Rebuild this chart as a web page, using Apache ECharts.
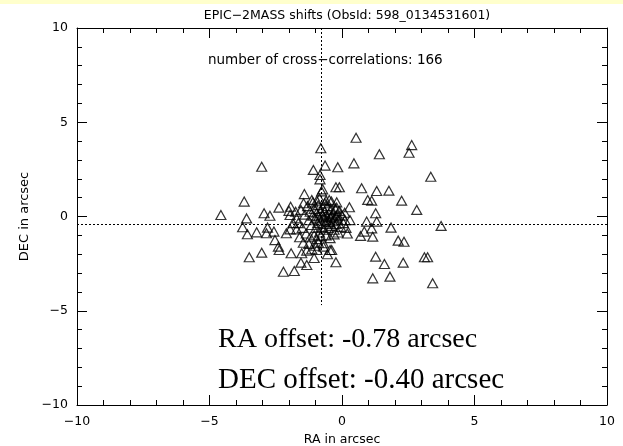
<!DOCTYPE html>
<html><head><meta charset="utf-8">
<script src="https://cdn.jsdelivr.net/npm/echarts@6/dist/echarts.min.js"></script>
<style>html,body{margin:0;padding:0;background:#fff}#c{width:623px;height:446px}</style>
</head><body><div id="c"></div>
<script>
// RA / DEC shifts (arcsec) of the 166 cross-correlations
const ra = [
-0.80,-3.03,-0.64,-1.08,-0.16,-0.83,-0.83,-0.73,-0.77,-0.23,
-1.42,-3.69,-1.14,-0.95,-0.60,-0.48,-2.38,-1.94,-0.20,0.53,
2.63,2.53,1.41,0.45,3.35,-0.10,0.74,1.31,1.77,0.97,
1.12,2.25,0.28,2.82,1.27,-0.20,0.11,0.30,0.93,1.31,
1.85,3.74,1.12,0.84,0.70,1.16,2.12,2.34,-0.39,1.27,
3.11,3.23,1.60,2.31,-0.23,1.16,1.81,3.42,-4.57,-3.60,
-2.94,-2.72,-1.96,-1.71,-3.75,-3.57,-3.22,-2.81,-2.85,-2.57,
-2.53,-2.40,-2.37,-2.10,-1.96,-1.71,-3.50,-3.03,-1.92,-1.52,
-1.33,-1.14,-0.95,-0.45,-1.55,-1.33,-2.21,-1.80,-1.46,-0.89,
-0.70,
-1.55,-1.40,-1.30,-1.25,-1.20,-1.15,-1.10,-1.05,-1.00,-0.98,
-0.95,-0.92,-0.90,-0.88,-0.85,-0.82,-0.80,-0.78,-0.75,-0.72,
-0.70,-0.68,-0.65,-0.62,-0.60,-0.58,-0.55,-0.52,-0.50,-0.48,
-0.45,-0.42,-0.40,-0.38,-0.35,-0.32,-0.30,-0.28,-0.25,-0.22,
-0.18,-0.15,-0.10,-0.05,0.00,0.05,0.10,0.15,-1.65,-1.50,
-1.35,-1.20,-1.05,-0.95,-0.80,-0.60,-0.45,-0.30,-0.15,0.20,
-1.45,-1.10,-0.85,-0.65,-0.40,-0.20,-1.75,-1.85,-2.00,-1.60,
-1.00,-0.70,-1.25,-0.55,-1.05
];
const dec = [
3.62,2.64,2.70,2.47,2.61,2.20,1.97,1.44,1.33,1.55,
1.19,0.79,0.88,0.84,0.84,0.88,0.47,0.52,0.47,4.18,
3.79,3.38,3.30,2.82,2.11,1.55,1.50,1.35,1.37,0.88,
0.84,0.84,0.49,0.35,0.17,0.00,-0.19,-0.19,-0.27,-0.27,
-0.59,-0.50,-0.63,-0.80,-1.03,-1.07,-1.28,-1.34,-1.78,-2.13,
-2.16,-2.16,-2.52,-2.45,-2.43,-3.28,-3.19,-3.54,0.08,-0.10,
0.17,0.04,0.08,-0.10,-0.57,-0.94,-0.84,-0.59,-0.89,-0.80,
-1.25,-1.60,-1.78,-0.89,-0.68,-0.68,-2.16,-1.92,-1.95,-1.95,
-1.81,-1.74,-1.78,-1.78,-2.45,-2.57,-2.93,-2.89,-1.39,-1.39,
-1.42,
0.35,0.10,0.55,-0.20,0.25,-0.45,0.05,0.40,-0.10,-0.60,
0.20,-0.35,0.60,0.00,-0.85,0.30,-0.25,-0.55,0.10,0.45,
-0.05,-0.70,0.25,-0.40,0.05,-0.20,0.55,-0.60,0.15,-0.30,
-0.05,0.35,-0.50,0.00,-0.25,0.20,-0.70,-0.10,0.40,-0.40,
0.10,-0.20,0.30,-0.55,0.05,-0.35,0.20,-0.60,-0.35,-0.60,
-0.90,-1.10,-1.00,-1.20,-1.05,-1.00,-1.15,-0.95,-0.85,-0.90,
0.70,0.75,0.95,0.70,0.80,0.75,0.25,-0.35,0.30,-1.10,
-1.55,-1.60,-1.45,-2.00,-2.20
];
const raOffset = -0.78;
const decOffset = -0.40;
const nCorr = 166;
const vLineBottom = -4.7;
const xTicks = [-10, -5, 0, 5, 10];
const yTicks = [-10, -5, 0, 5, 10];
const titleText = 'EPIC\u22122MASS shifts (ObsId: 598_0134531601)';

const pts = ra.map((v, i) => [v, dec[i]]);
const fmt = v => String(v).replace('-', '\u2212');
const lab = { color: '#000', fontFamily: 'DejaVu Sans', fontSize: 12.5, fontWeight: 'normal' };
const axCommon = (pos, showLabel) => ({
  type: 'value', min: -10, max: 10, interval: 5, position: pos,
  axisLine: { show: true, onZero: false, lineStyle: { color: '#000', width: 1 } },
  axisTick: { show: true, inside: true, length: 10, lineStyle: { color: '#000', width: 1 } },
  minorTick: { show: true, splitNumber: 5, length: 5, lineStyle: { color: '#000', width: 1 } },
  splitLine: { show: false },
  axisLabel: Object.assign({ show: showLabel, formatter: fmt, margin: pos === 'bottom' ? 10 : 9 }, lab)
});

const chart = echarts.init(document.getElementById('c'), null, { renderer: 'canvas' });
chart.setOption({
  animation: false,
  backgroundColor: '#fff',
  grid: { left: 77, top: 28, right: 16, bottom: 41, containLabel: false, outerBoundsMode: 'none' },
  title: {
    text: titleText, left: 342, top: 4, textAlign: 'center',
    textStyle: { color: '#000', fontFamily: 'DejaVu Sans', fontSize: 12.5, fontWeight: 'normal' }
  },
  xAxis: [
    Object.assign(axCommon('bottom', true), { name: 'RA in arcsec', nameLocation: 'middle', nameGap: 28,
      nameTextStyle: Object.assign({}, lab, { fontSize: 12.5 }) }),
    axCommon('top', false)
  ],
  yAxis: [
    Object.assign(axCommon('left', true), { name: 'DEC in arcsec', nameLocation: 'middle', nameGap: 40,
      nameTextStyle: Object.assign({}, lab, { fontSize: 13 }) }),
    axCommon('right', false)
  ],
  graphic: [
    { type: 'rect', left: 0, top: 0, shape: { width: 623, height: 4 }, style: { fill: '#ffffcc' }, z: 100 },
    { type: 'text', left: 208, top: 53, style: { text: 'number of cross\u2212correlations: ' + nCorr,
      fill: '#000', font: '13.5px "DejaVu Sans"' }, z: 100 },
    { type: 'text', left: 218, top: 326, style: { text: 'RA offset: ' + raOffset.toFixed(2) + ' arcsec',
      fill: '#000', font: '28px "Liberation Serif"' }, z: 100 },
    { type: 'text', left: 218, top: 366, style: { text: 'DEC offset: ' + decOffset.toFixed(2) + ' arcsec',
      fill: '#000', font: '29px "Liberation Serif"' }, z: 100 }
  ],
  series: [
    {
      type: 'scatter', data: pts, symbol: 'triangle', symbolSize: [10, 9],
      itemStyle: { color: 'rgba(0,0,0,0)', borderColor: '#000', borderWidth: 1.2 },
      markLine: {
        silent: true, symbol: 'none', label: { show: false },
        lineStyle: { color: '#000', width: 1, type: [2, 2] },
        data: [
          [{ coord: [raOffset, 10] }, { coord: [raOffset, vLineBottom] }],
          [{ coord: [-10, decOffset] }, { coord: [10, decOffset] }]
        ]
      }
    }
  ]
});
</script></body></html>
